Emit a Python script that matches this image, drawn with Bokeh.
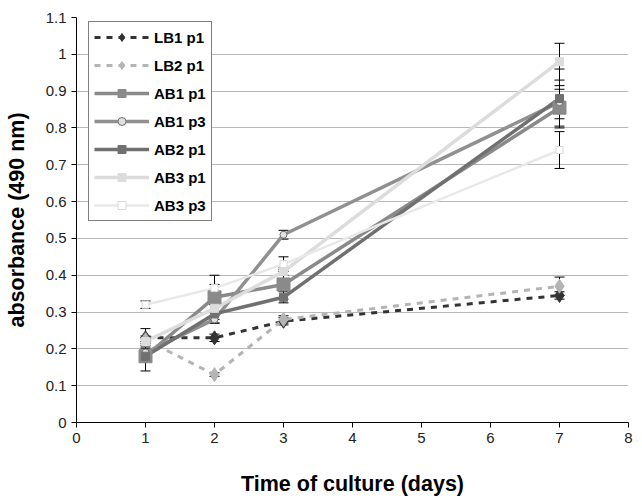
from bokeh.plotting import figure
from bokeh.models import (Whisker, ColumnDataSource, FixedTicker, Legend,
                          LegendItem, TeeHead, Range1d)
from bokeh.embed import file_html
from bokeh.resources import INLINE

# ---- data ----
days = [1, 2, 3, 7]
series_names = ["LB1 p1", "LB2 p1", "AB1 p1", "AB1 p3", "AB2 p1", "AB3 p1", "AB3 p3"]
lb1_p1 = [0.23, 0.23, 0.275, 0.345]
lb2_p1 = [0.225, 0.13, 0.28, 0.37]
ab1_p1 = [0.18, 0.34, 0.375, 0.855]
ab1_p3 = [0.19, 0.28, 0.51, 0.87]
ab2_p1 = [0.18, 0.295, 0.34, 0.88]
ab3_p1 = [0.22, 0.31, 0.41, 0.98]
ab3_p3 = [0.32, 0.365, 0.43, 0.74]

lb1_p1_err = [0.025, 0.01, 0.01, 0.01]
lb2_p1_err = [0.01, 0.005, 0.01, 0.025]
ab1_p1_err = [0.04, 0.06, 0.04, 0.05]
ab1_p3_err = [0.01, 0.01, 0.012, 0.045]
ab2_p1_err = [0.01, 0.025, 0.015, 0.08]
ab3_p1_err = [0.01, 0.01, 0.01, 0.05]
ab3_p3_err = [0.01, 0.01, 0.02, 0.05]

x_ticks = [0, 1, 2, 3, 4, 5, 6, 7, 8]
y_ticks = [0, 0.1, 0.2, 0.3, 0.4, 0.5, 0.6, 0.7, 0.8, 0.9, 1, 1.1]

values = [lb1_p1, lb2_p1, ab1_p1, ab1_p3, ab2_p1, ab3_p1, ab3_p3]
errors = [lb1_p1_err, lb2_p1_err, ab1_p1_err, ab1_p3_err, ab2_p1_err, ab3_p1_err, ab3_p3_err]

# ---- styles ----
styles = [
    dict(color="#333333", dash="6 6", width=3, marker="diamond", size=14, fill="#333333", mline="#333333"),
    dict(color="#b4b4b4", dash="6 6", width=3, marker="diamond", size=14, fill="#b4b4b4", mline="#b4b4b4"),
    dict(color="#8a8a8a", dash="solid", width=3.5, marker="square", size=13, fill="#8a8a8a", mline="#8a8a8a"),
    dict(color="#909090", dash="solid", width=3.5, marker="circle", size=7, fill="#e0e0e0", mline="#707070"),
    dict(color="#707070", dash="solid", width=3.5, marker="square", size=8, fill="#707070", mline="#707070"),
    dict(color="#dcdcdc", dash="solid", width=3.5, marker="square", size=8, fill="#dcdcdc", mline="#dcdcdc"),
    dict(color="#e8e8e8", dash="solid", width=2.5, marker="square", size=7, fill="#ffffff", mline="#d8d8d8"),
]

FONT = "Liberation Sans"

p = figure(width=636, height=500, x_range=Range1d(0, 8), y_range=Range1d(0, 1.1),
           output_backend="svg", toolbar_location=None,
           min_border_left=76, min_border_right=8, min_border_top=17, min_border_bottom=78)
p.outline_line_color = None
p.background_fill_color = "white"
p.xgrid.visible = False
p.ygrid.grid_line_color = "#b8b8b8"
p.ygrid.grid_line_width = 1

p.xaxis.ticker = FixedTicker(ticks=x_ticks)
p.yaxis.ticker = FixedTicker(ticks=y_ticks)
p.yaxis.major_label_overrides = {0: "0", 1: "1"}
for ax in (p.xaxis, p.yaxis):
    ax.axis_line_color = "black"
    ax.axis_line_width = 1
    ax.major_tick_line_color = "black"
    ax.major_tick_in = 0
    ax.major_tick_out = 5
    ax.minor_tick_line_color = None
    ax.major_label_text_font = FONT
    ax.major_label_text_font_size = "15px"
    ax.major_label_text_color = "#222222"
    ax.axis_label_text_font = FONT
    ax.axis_label_text_font_style = "bold"
    ax.axis_label_text_font_size = "21.5px"
    ax.axis_label_text_color = "black"
p.xaxis.axis_label = "Time of culture (days)"
p.yaxis.axis_label = "absorbance (490 nm)"
p.xaxis.axis_label_standoff = 26
p.yaxis.axis_label_standoff = 14

items = []
renderers = []
for name, vals, errs, st in zip(series_names, values, errors, styles):
    src = ColumnDataSource(dict(x=days, y=vals,
                                lo=[v - e for v, e in zip(vals, errs)],
                                hi=[v + e for v, e in zip(vals, errs)]))
    lr = p.line("x", "y", source=src, line_color=st["color"], line_width=st["width"],
                line_dash=st["dash"])
    renderers.append((name, lr, src, st))

for name, lr, src, st in renderers:
    w = Whisker(base="x", upper="hi", lower="lo", source=src, dimension="height",
                line_color="black", line_width=1,
                upper_head=TeeHead(size=10, line_color="black", line_width=1),
                lower_head=TeeHead(size=10, line_color="black", line_width=1))
    p.add_layout(w)

for name, lr, src, st in renderers:
    sr = p.scatter("x", "y", source=src, marker=st["marker"], size=st["size"],
                   fill_color=st["fill"], line_color=st["mline"], line_width=1)
    items.append(LegendItem(label=name, renderers=[lr, sr]))

legend = Legend(items=items, location=(12, 201),
                label_text_font=FONT, label_text_font_style="bold",
                label_text_font_size="15px", label_text_color="black",
                border_line_color="black", border_line_width=1,
                background_fill_color="white", background_fill_alpha=1,
                glyph_width=55, glyph_height=20, label_height=20,
                spacing=8, padding=5, label_standoff=5, margin=0)
p.add_layout(legend, "center")

open("out.html", "w").write(file_html(p, INLINE))
